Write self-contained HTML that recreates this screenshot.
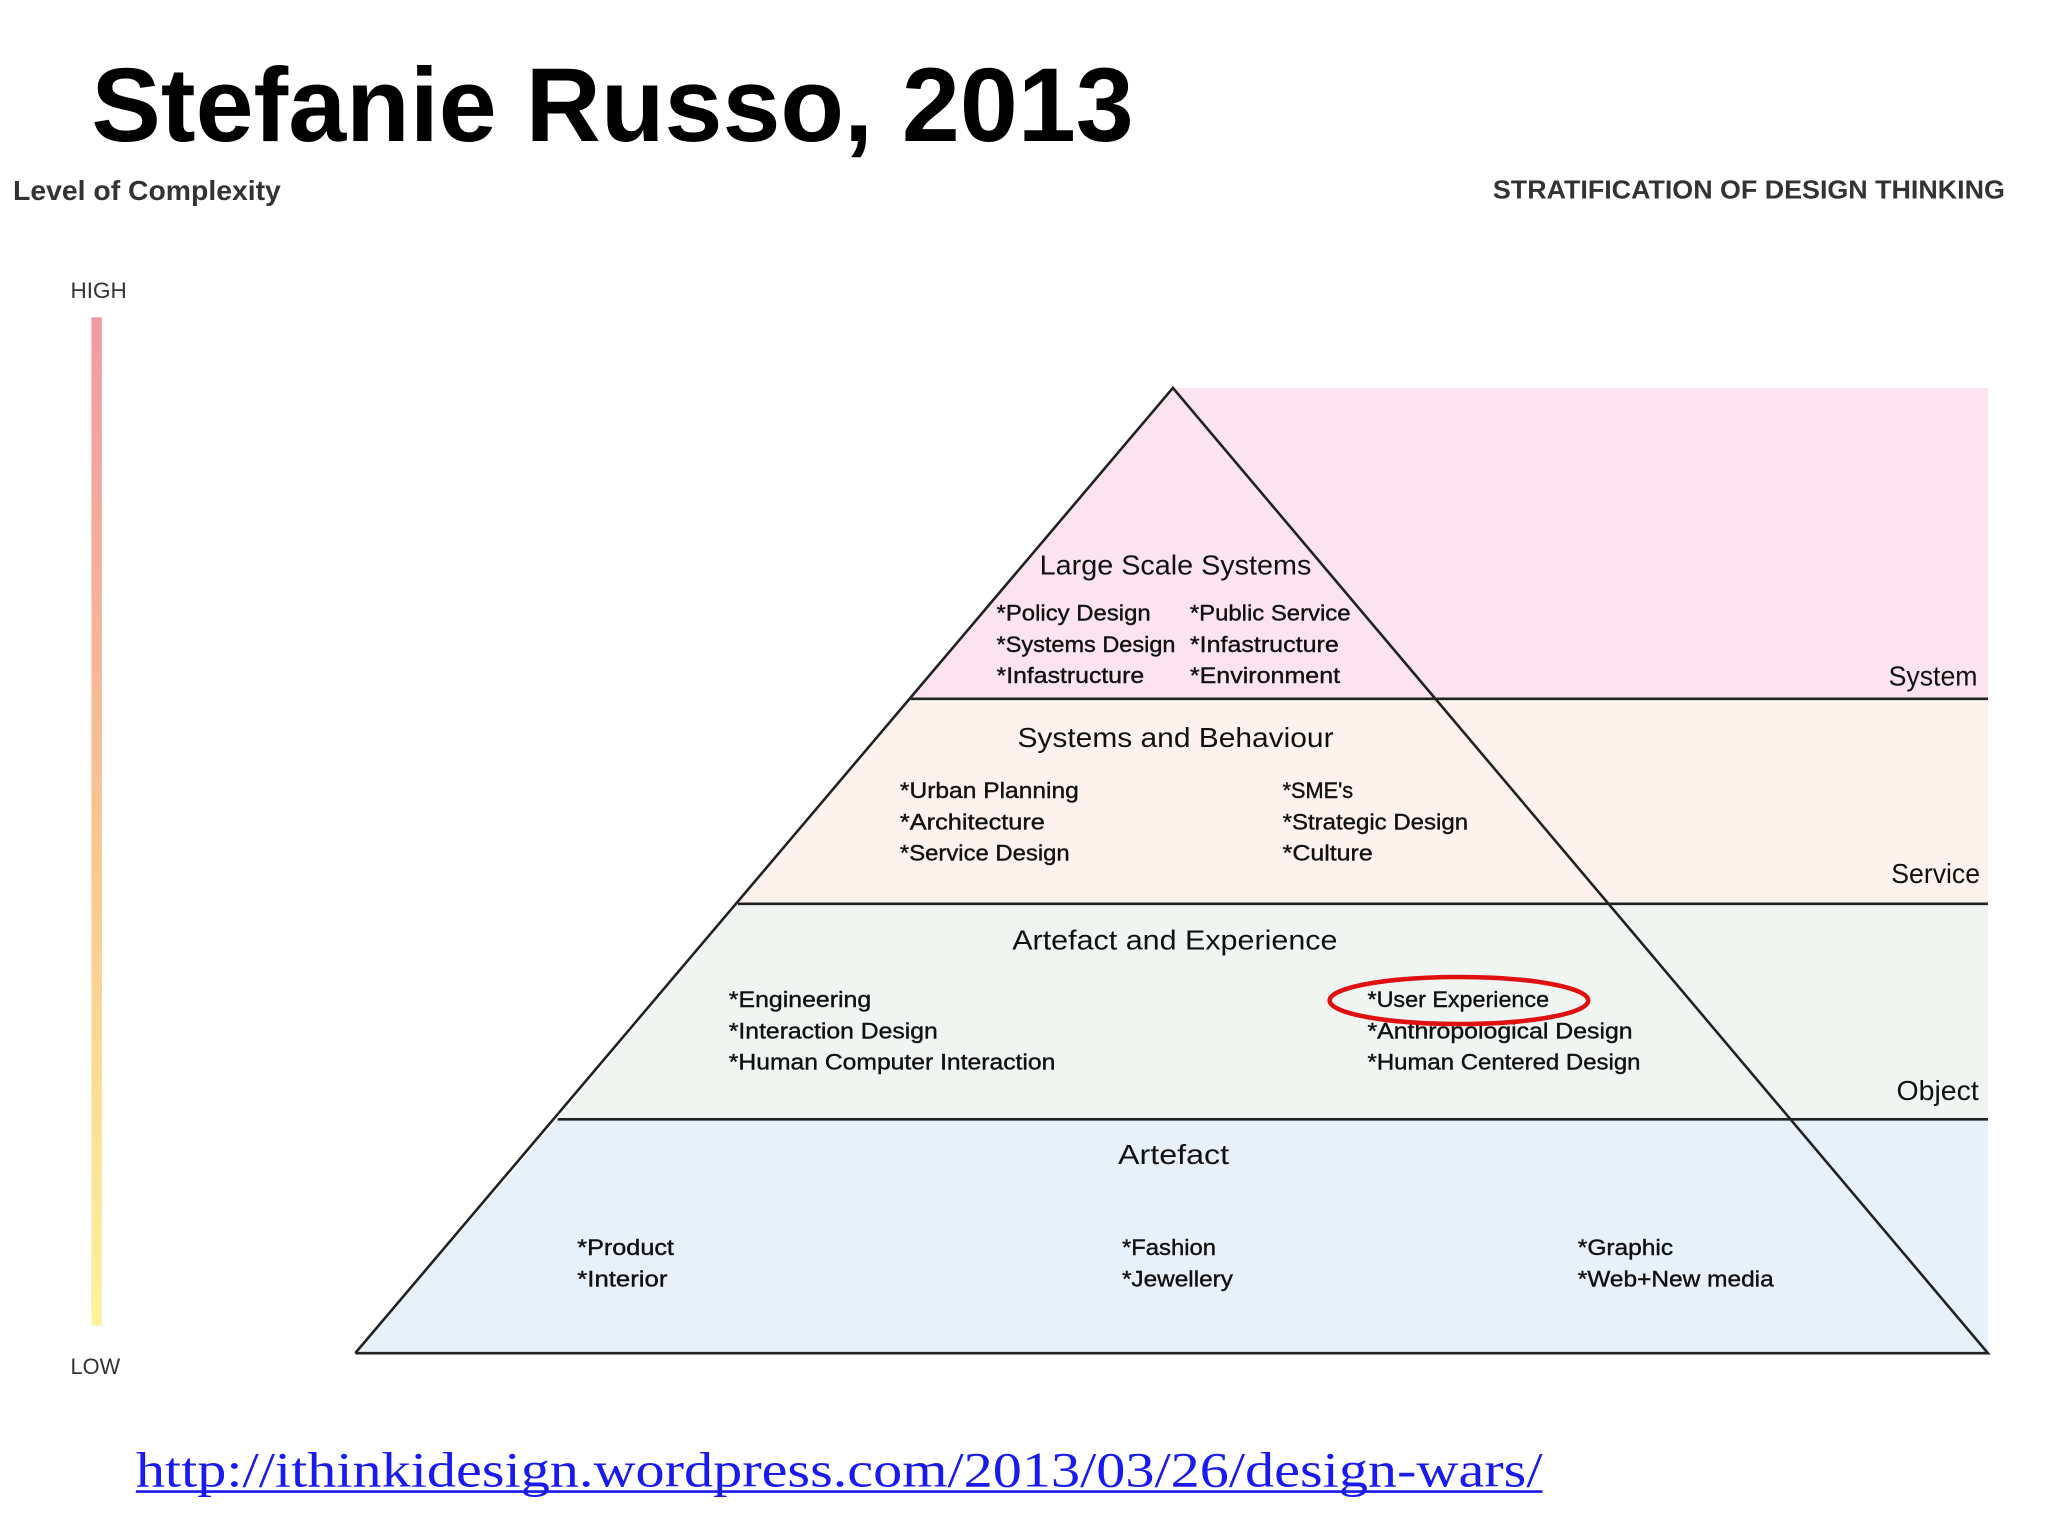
<!DOCTYPE html>
<html><head><meta charset="utf-8"><style>
html,body{margin:0;padding:0;background:#fff;}
svg{display:block;}
</style></head><body>
<svg width="2048" height="1536" viewBox="0 0 1568 1176" xmlns="http://www.w3.org/2000/svg" font-family="'Liberation Sans', sans-serif">
<defs>
<linearGradient id="g" x1="0" y1="0" x2="0" y2="1">
<stop offset="0" stop-color="#f09aa5"/>
<stop offset="0.5" stop-color="#f8c490"/>
<stop offset="1" stop-color="#fdf39a"/>
</linearGradient>
</defs>
<rect width="1568" height="1176" fill="#fff"/>
<text x="70" y="108" font-size="80" font-weight="bold" textLength="798" lengthAdjust="spacingAndGlyphs" fill="#000">Stefanie Russo, 2013</text>
<text x="10" y="153" font-size="21" font-weight="bold" fill="#333" textLength="205" lengthAdjust="spacingAndGlyphs">Level of Complexity</text>
<text x="1143" y="152" font-size="20" fill="#333" font-weight="bold" textLength="392" lengthAdjust="spacingAndGlyphs">STRATIFICATION OF DESIGN THINKING</text>
<text x="54" y="228" font-size="17" fill="#333" textLength="43" lengthAdjust="spacingAndGlyphs">HIGH</text>
<rect x="70" y="243" width="8" height="772" fill="url(#g)"/>
<text x="54" y="1052" font-size="17" fill="#333" textLength="38" lengthAdjust="spacingAndGlyphs">LOW</text>

<polygon points="898,297 1522,297 1522,535 696,535" fill="#fbe4ef"/>
<polygon points="696,535 1522,535 1522,692 565,692" fill="#fdf3ec"/>
<polygon points="565,692 1522,692 1522,857 427,857" fill="#f1f5f2"/>
<polygon points="427,857 1522,857 1522,1036 272,1036" fill="#e6f1fa"/>
<g stroke="#222" stroke-width="2" fill="none">
<polyline points="272,1036 898,297 1522,1036 272,1036"/>
<line x1="696" y1="535" x2="1522" y2="535"/>
<line x1="565" y1="692" x2="1522" y2="692"/>
<line x1="427" y1="857" x2="1522" y2="857"/>
</g>

<g fill="#111" font-size="21">
<text x="796" y="440" textLength="208" lengthAdjust="spacingAndGlyphs">Large Scale Systems</text>
<text x="779" y="572" textLength="242" lengthAdjust="spacingAndGlyphs">Systems and Behaviour</text>
<text x="775" y="727" textLength="249" lengthAdjust="spacingAndGlyphs">Artefact and Experience</text>
<text x="856" y="891" textLength="85" lengthAdjust="spacingAndGlyphs">Artefact</text>
<text x="1446" y="525" textLength="68" lengthAdjust="spacingAndGlyphs">System</text>
<text x="1448" y="676" textLength="68" lengthAdjust="spacingAndGlyphs">Service</text>
<text x="1452" y="842" textLength="63" lengthAdjust="spacingAndGlyphs">Object</text>
</g>
<g fill="#111" font-size="17" stroke="#111" stroke-width="0.3">
<text x="763" y="475" textLength="118" lengthAdjust="spacingAndGlyphs">*Policy Design</text>
<text x="763" y="499" textLength="137" lengthAdjust="spacingAndGlyphs">*Systems Design</text>
<text x="763" y="523" textLength="113" lengthAdjust="spacingAndGlyphs">*Infastructure</text>
<text x="911" y="475" textLength="123" lengthAdjust="spacingAndGlyphs">*Public Service</text>
<text x="911" y="499" textLength="114" lengthAdjust="spacingAndGlyphs">*Infastructure</text>
<text x="911" y="523" textLength="115" lengthAdjust="spacingAndGlyphs">*Environment</text>
<text x="689" y="611" textLength="137" lengthAdjust="spacingAndGlyphs">*Urban Planning</text>
<text x="689" y="635" textLength="111" lengthAdjust="spacingAndGlyphs">*Architecture</text>
<text x="689" y="659" textLength="130" lengthAdjust="spacingAndGlyphs">*Service Design</text>
<text x="982" y="611" textLength="54" lengthAdjust="spacingAndGlyphs">*SME's</text>
<text x="982" y="635" textLength="142" lengthAdjust="spacingAndGlyphs">*Strategic Design</text>
<text x="982" y="659" textLength="69" lengthAdjust="spacingAndGlyphs">*Culture</text>
<text x="558" y="771" textLength="109" lengthAdjust="spacingAndGlyphs">*Engineering</text>
<text x="558" y="795" textLength="160" lengthAdjust="spacingAndGlyphs">*Interaction Design</text>
<text x="558" y="819" textLength="250" lengthAdjust="spacingAndGlyphs">*Human Computer Interaction</text>
<text x="1047" y="771" textLength="139" lengthAdjust="spacingAndGlyphs">*User Experience</text>
<text x="1047" y="795" textLength="203" lengthAdjust="spacingAndGlyphs">*Anthropological Design</text>
<text x="1047" y="819" textLength="209" lengthAdjust="spacingAndGlyphs">*Human Centered Design</text>
<text x="442" y="961" textLength="74" lengthAdjust="spacingAndGlyphs">*Product</text>
<text x="442" y="985" textLength="69" lengthAdjust="spacingAndGlyphs">*Interior</text>
<text x="859" y="961" textLength="72" lengthAdjust="spacingAndGlyphs">*Fashion</text>
<text x="859" y="985" textLength="85" lengthAdjust="spacingAndGlyphs">*Jewellery</text>
<text x="1208" y="961" textLength="73" lengthAdjust="spacingAndGlyphs">*Graphic</text>
<text x="1208" y="985" textLength="150" lengthAdjust="spacingAndGlyphs">*Web+New media</text>
</g>
<ellipse cx="1117" cy="766" rx="99" ry="18" fill="none" stroke="#e01010" stroke-width="3.5"/>

<text x="104" y="1138" font-family="'Liberation Serif', serif" font-size="38" fill="#1a1aee" textLength="1077" lengthAdjust="spacingAndGlyphs">http://ithinkidesign.wordpress.com/2013/03/26/design-wars/</text>
<line x1="104" y1="1142" x2="1181" y2="1142" stroke="#1a1aee" stroke-width="2"/>
</svg>
</body></html>
